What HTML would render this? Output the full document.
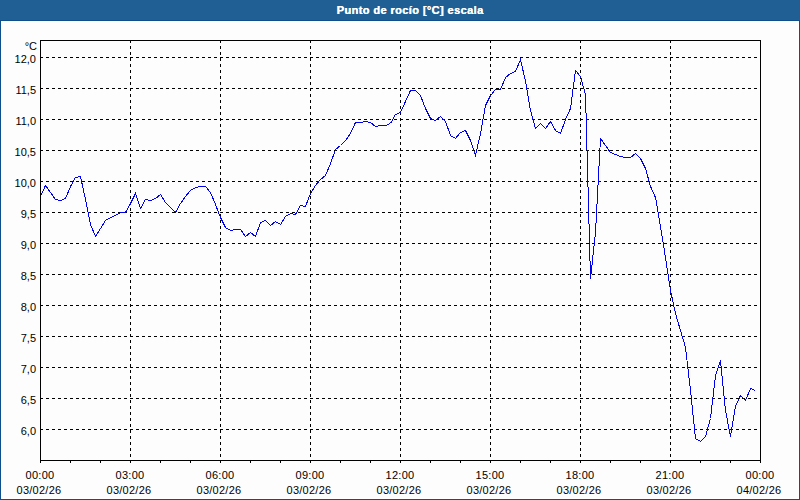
<!DOCTYPE html>
<html><head><meta charset="utf-8">
<style>
html,body{margin:0;padding:0;}
body{width:800px;height:500px;position:relative;overflow:hidden;background:#FCFDFC;font-family:"Liberation Sans",sans-serif;}
#hdr{position:absolute;left:0;top:0;width:800px;height:20px;background:#1F5F94;border-bottom:1px solid #0C4F8C;}
#title{position:absolute;left:0;top:3px;width:820px;text-align:center;color:#fff;font-weight:bold;font-size:11px;line-height:14px;letter-spacing:0.4px;text-shadow:0.35px 0 0 #fff;}
#bl{position:absolute;left:0;top:21px;width:1px;height:479px;background:#0C4F8C;}
#br{position:absolute;left:799px;top:21px;width:1px;height:479px;background:#0C4F8C;}
#bb{position:absolute;left:0;top:499px;width:800px;height:1px;background:#0C4F8C;}
svg{position:absolute;left:0;top:0;}
#inner{position:absolute;left:1px;top:21px;width:796px;height:476px;border:1px solid #fff;}
.g{stroke:#000;stroke-width:1;stroke-dasharray:3 3;shape-rendering:crispEdges;}
.a{stroke:#000;stroke-width:1;shape-rendering:crispEdges;}
.yl{position:absolute;left:0;width:36px;text-align:right;font-size:11px;line-height:12px;color:#000;}
.xd{top:483px !important;}
.xl{position:absolute;top:468px;width:80px;text-align:center;font-size:11px;line-height:15px;color:#000;letter-spacing:0.25px;}
#unit{position:absolute;left:0;top:40px;width:37px;text-align:right;font-size:11px;line-height:12px;color:#000;}
</style></head><body>
<div id="hdr"></div>
<div id="title">Punto de rocío [°C] escala</div>
<div id="inner"></div>
<div id="bl"></div><div id="br"></div><div id="bb"></div>
<svg width="800" height="500" viewBox="0 0 800 500">
<line x1="40" y1="57.5" x2="760" y2="57.5" class="g"/><line x1="40" y1="88.5" x2="760" y2="88.5" class="g"/><line x1="40" y1="119.5" x2="760" y2="119.5" class="g"/><line x1="40" y1="150.5" x2="760" y2="150.5" class="g"/><line x1="40" y1="181.5" x2="760" y2="181.5" class="g"/><line x1="40" y1="212.5" x2="760" y2="212.5" class="g"/><line x1="40" y1="243.5" x2="760" y2="243.5" class="g"/><line x1="40" y1="274.5" x2="760" y2="274.5" class="g"/><line x1="40" y1="305.5" x2="760" y2="305.5" class="g"/><line x1="40" y1="336.5" x2="760" y2="336.5" class="g"/><line x1="40" y1="367.5" x2="760" y2="367.5" class="g"/><line x1="40" y1="398.5" x2="760" y2="398.5" class="g"/><line x1="40" y1="429.5" x2="760" y2="429.5" class="g"/><line x1="130.5" y1="40" x2="130.5" y2="460" class="g"/><line x1="220.5" y1="40" x2="220.5" y2="460" class="g"/><line x1="310.5" y1="40" x2="310.5" y2="460" class="g"/><line x1="400.5" y1="40" x2="400.5" y2="460" class="g"/><line x1="490.5" y1="40" x2="490.5" y2="460" class="g"/><line x1="580.5" y1="40" x2="580.5" y2="460" class="g"/><line x1="670.5" y1="40" x2="670.5" y2="460" class="g"/><line x1="40.5" y1="460" x2="40.5" y2="463" class="a"/><line x1="70.5" y1="460" x2="70.5" y2="463" class="a"/><line x1="100.5" y1="460" x2="100.5" y2="463" class="a"/><line x1="130.5" y1="460" x2="130.5" y2="463" class="a"/><line x1="160.5" y1="460" x2="160.5" y2="463" class="a"/><line x1="190.5" y1="460" x2="190.5" y2="463" class="a"/><line x1="220.5" y1="460" x2="220.5" y2="463" class="a"/><line x1="250.5" y1="460" x2="250.5" y2="463" class="a"/><line x1="280.5" y1="460" x2="280.5" y2="463" class="a"/><line x1="310.5" y1="460" x2="310.5" y2="463" class="a"/><line x1="340.5" y1="460" x2="340.5" y2="463" class="a"/><line x1="370.5" y1="460" x2="370.5" y2="463" class="a"/><line x1="400.5" y1="460" x2="400.5" y2="463" class="a"/><line x1="430.5" y1="460" x2="430.5" y2="463" class="a"/><line x1="460.5" y1="460" x2="460.5" y2="463" class="a"/><line x1="490.5" y1="460" x2="490.5" y2="463" class="a"/><line x1="520.5" y1="460" x2="520.5" y2="463" class="a"/><line x1="550.5" y1="460" x2="550.5" y2="463" class="a"/><line x1="580.5" y1="460" x2="580.5" y2="463" class="a"/><line x1="610.5" y1="460" x2="610.5" y2="463" class="a"/><line x1="640.5" y1="460" x2="640.5" y2="463" class="a"/><line x1="670.5" y1="460" x2="670.5" y2="463" class="a"/><line x1="700.5" y1="460" x2="700.5" y2="463" class="a"/><line x1="730.5" y1="460" x2="730.5" y2="463" class="a"/><line x1="760.5" y1="460" x2="760.5" y2="463" class="a"/>
<polyline points="40.5,196.5 45.5,185.5 50.5,192.5 55.5,199.5 60.5,200.5 65.5,198.5 70.5,186.5 75.5,177.5 80.5,176.5 85.5,199.5 90.5,224.5 95.5,236.5 100.5,228.5 105.5,220.5 110.5,217.5 115.5,215.5 120.5,212.5 125.5,212.5 130.5,203.5 135.5,193.5 140.5,208.5 145.5,199.5 150.5,200.5 155.5,198.5 160.5,194.5 165.5,202.5 170.5,207.5 175.5,212.5 180.5,203.5 185.5,196.5 190.5,190.5 195.5,187.5 200.5,186.5 205.5,186.5 210.5,192.5 215.5,204.5 220.5,217.5 225.5,227.5 230.5,230.5 235.5,229.5 240.5,229.5 245.5,236.5 250.5,232.5 255.5,236.5 260.5,222.5 265.5,220.5 270.5,225.5 275.5,221.5 280.5,224.5 285.5,216.5 290.5,213.5 295.5,214.5 300.5,205.5 305.5,206.5 310.5,193.5 315.5,185.5 320.5,179.5 325.5,175.5 330.5,163.5 335.5,149.5 340.5,145.5 345.5,140.5 350.5,133.5 355.5,122.5 360.5,122.5 365.5,121.5 370.5,122.5 375.5,126.5 380.5,125.5 385.5,125.5 390.5,123.5 395.5,114.5 400.5,112.5 405.5,101.5 410.5,90.5 415.5,90.5 420.5,95.5 425.5,108.5 430.5,118.5 435.5,120.5 440.5,116.5 445.5,121.5 450.5,135.5 455.5,138.5 460.5,132.5 465.5,130.5 470.5,140.5 475.5,155.5 480.5,133.5 485.5,105.5 490.5,95.5 495.5,89.5 500.5,89.5 505.5,77.5 510.5,73.5 515.5,71.5 520.5,59.5 525.5,81.5 530.5,110.5 535.5,128.5 540.5,123.5 545.5,128.5 550.5,121.5 555.5,130.5 560.5,133.5 565.5,119.5 570.5,108.5 575.5,70.5 580.5,76.5 585.5,94.5 590.5,278.5 595.5,232.5 600.5,138.5 605.5,145.5 610.5,152.5 615.5,154.5 620.5,156.5 625.5,157.5 630.5,157.5 635.5,153.5 640.5,158.5 645.5,168.5 650.5,186.5 655.5,197.5 660.5,226.5 665.5,257.5 670.5,290.5 675.5,313.5 680.5,330.5 685.5,347.5 690.5,390.5 695.5,438.5 700.5,441.5 705.5,436.5 710.5,418.5 715.5,375.5 720.5,360.5 725.5,410.5 730.5,436.5 735.5,406.5 740.5,395.5 745.5,400.5 750.5,388.5 755.5,390.5" fill="none" stroke="#0000F0" stroke-width="1" shape-rendering="crispEdges"/>
<rect x="40.5" y="40.5" width="720" height="420" fill="none" stroke="#000" stroke-width="1" shape-rendering="crispEdges"/>
<line x1="40.5" y1="460" x2="40.5" y2="463" class="a"/>
</svg>
<div id="unit">°C</div>
<div class="yl" style="top:53px">12,0</div>
<div class="yl" style="top:84px">11,5</div>
<div class="yl" style="top:115px">11,0</div>
<div class="yl" style="top:146px">10,5</div>
<div class="yl" style="top:177px">10,0</div>
<div class="yl" style="top:208px">9,5</div>
<div class="yl" style="top:239px">9,0</div>
<div class="yl" style="top:270px">8,5</div>
<div class="yl" style="top:301px">8,0</div>
<div class="yl" style="top:332px">7,5</div>
<div class="yl" style="top:363px">7,0</div>
<div class="yl" style="top:394px">6,5</div>
<div class="yl" style="top:425px">6,0</div>

<div class="xl" style="left:0px">00:00</div><div class="xl xd" style="left:-1px">03/02/26</div>
<div class="xl" style="left:90px">03:00</div><div class="xl xd" style="left:89px">03/02/26</div>
<div class="xl" style="left:180px">06:00</div><div class="xl xd" style="left:179px">03/02/26</div>
<div class="xl" style="left:270px">09:00</div><div class="xl xd" style="left:269px">03/02/26</div>
<div class="xl" style="left:360px">12:00</div><div class="xl xd" style="left:359px">03/02/26</div>
<div class="xl" style="left:450px">15:00</div><div class="xl xd" style="left:449px">03/02/26</div>
<div class="xl" style="left:540px">18:00</div><div class="xl xd" style="left:539px">03/02/26</div>
<div class="xl" style="left:630px">21:00</div><div class="xl xd" style="left:629px">03/02/26</div>
<div class="xl" style="left:720px">00:00</div><div class="xl xd" style="left:719px">04/02/26</div>

</body></html>
